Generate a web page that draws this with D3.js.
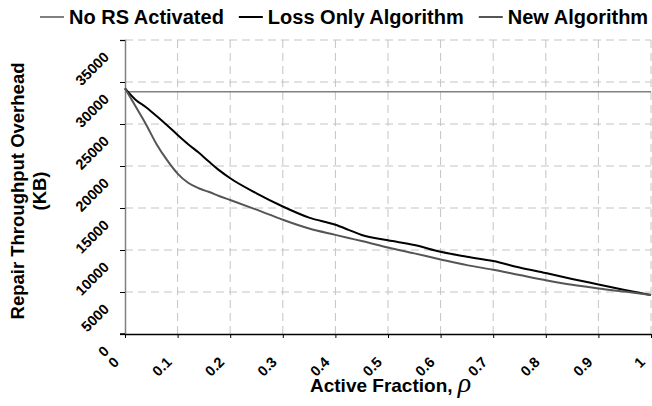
<!DOCTYPE html>
<html lang="en">

<head>
  <meta charset="UTF-8">
  <title>Repair Throughput Overhead</title>
  <script src="https://d3js.org/d3.v7.min.js"></script>
  <style>
    body {
      margin: 0;
      background: #fff;
    }

    text {
      font-family: "Liberation Sans", Arial, sans-serif;
      font-weight: bold;
    }
  </style>
</head>

<body>
  <div class="chartContainer"></div>

  <script>
    // data
    const rho = [0, 0.02, 0.04, 0.06, 0.08, 0.1, 0.12, 0.14, 0.16, 0.18, 0.2, 0.25, 0.3, 0.35, 0.4, 0.425, 0.45,
      0.5, 0.55, 0.6, 0.65, 0.7, 0.75, 0.8, 0.85, 0.9, 0.95, 1]
    const noRS = rho.map(() => 28850)
    const lossOnly = [29250, 27900, 27000, 25950, 24850, 23700, 22600, 21600, 20500, 19450, 18540, 16750,
      15180, 13850, 13000, 12400, 11790, 11150, 10600, 9780, 9200, 8680, 7920, 7250, 6550, 5900, 5250, 4640]
    const newAlg = [29250, 27100, 24950, 22600, 20700, 19100, 18000, 17350, 16900, 16400, 15950, 14800,
      13600, 12550, 11800, 11430, 11070, 10300, 9600, 8880, 8200, 7650, 7020, 6400, 5850, 5420, 5050, 4640]
    const seriesNames = ['No RS Activated', 'Loss Only Algorithm', 'New Algorithm']
    const seriesColors = ['#808080', '#000000', '#555555']
    const xTicks = [0, 0.1, 0.2, 0.3, 0.4, 0.5, 0.6, 0.7, 0.8, 0.9, 1]
    const yTicks = [0, 5000, 10000, 15000, 20000, 25000, 30000, 35000]

    const width = 652, height = 406
    const plotLeft = 125, plotRight = 651, plotTop = 40, plotBottom = 334

    const svg = d3.select('.chartContainer')
      .append('svg')
      .attr('width', width)
      .attr('height', height)

    const x = d3.scaleLinear().domain([0, 1]).range([plotLeft, plotRight])
    const y = d3.scaleLinear().domain([0, 35000]).range([plotBottom, plotTop])

    // 格線
    svg.append('g')
      .selectAll('line')
      .data(yTicks.slice(1))
      .enter()
      .append('line')
      .attr('x1', plotLeft).attr('x2', plotRight)
      .attr('y1', d => y(d)).attr('y2', d => y(d))
      .attr('stroke', '#c4c4c4')
      .attr('stroke-dasharray', '8,5')

    svg.append('g')
      .selectAll('line')
      .data(xTicks.slice(1))
      .enter()
      .append('line')
      .attr('x1', d => x(d)).attr('x2', d => x(d))
      .attr('y1', plotTop).attr('y2', plotBottom)
      .attr('stroke', '#c4c4c4')
      .attr('stroke-dasharray', '8,5')

    // y axis
    const yAxis = svg.append('g')
      .attr('transform', `translate(${plotLeft},0)`)
      .call(d3.axisLeft(y).tickValues(yTicks).tickSize(5).tickFormat(''))
    yAxis.select('.domain').attr('stroke', '#808080').attr('stroke-width', 1.5)
    yAxis.selectAll('.tick line').attr('stroke', '#000')

    svg.append('g')
      .selectAll('text')
      .data(yTicks)
      .enter()
      .append('text')
      .attr('transform', d => `translate(110,${y(d) + 18}) rotate(-45)`)
      .attr('text-anchor', 'end')
      .style('font-size', '14.5px')
      .text(d => d)

    // x axis
    const xAxis = svg.append('g')
      .attr('transform', `translate(0,${plotBottom})`)
      .call(d3.axisBottom(x).tickValues(xTicks).tickSize(4).tickFormat('').tickSizeOuter(0))
    xAxis.select('.domain').attr('stroke', '#000').attr('stroke-width', 1.5)
    svg.append('line')
      .attr('x1', plotLeft - 5).attr('x2', plotLeft)
      .attr('y1', plotBottom).attr('y2', plotBottom)
      .attr('stroke', '#000').attr('stroke-width', 1.5)

    svg.append('g')
      .selectAll('text')
      .data(xTicks)
      .enter()
      .append('text')
      .attr('transform', d => `translate(${x(d) - 5},${plotBottom + 29}) rotate(-45)`)
      .attr('text-anchor', 'end')
      .style('font-size', '14.5px')
      .text(d => d)

    // axis titles
    const xTitle = svg.append('text')
      .attr('x', 310)
      .attr('y', 392)
      .style('font-size', '19px')
    xTitle.append('tspan').text('Active Fraction, ')
    xTitle.append('tspan')
      .style('font-family', '"Liberation Serif", serif')
      .style('font-style', 'italic')
      .style('font-weight', 'normal')
      .style('font-size', '28px')
      .text('ρ')

    const yTitle = svg.append('text')
      .attr('transform', 'translate(24,191) rotate(-90)')
      .attr('text-anchor', 'middle')
      .style('font-size', '18.5px')
    yTitle.append('tspan').attr('x', 0).attr('dy', 0).text('Repair Throughput Overhead')
    yTitle.append('tspan').attr('x', 0).attr('dy', 22).text('(KB)')

    // 線條
    const line = d3.line()
      .x(d => x(d[0]))
      .y(d => y(d[1]))
      .curve(d3.curveMonotoneX)

    const series = [noRS, lossOnly, newAlg]
    svg.append('g')
      .selectAll('path')
      .data(series)
      .enter()
      .append('path')
      .attr('d', s => line(rho.map((r, i) => [r, s[i]])))
      .attr('fill', 'none')
      .attr('stroke', (s, i) => seriesColors[i])
      .attr('stroke-width', (s, i) => i === 0 ? 1.5 : 2)

    // legend, items laid out one after another
    let legendX = 40
    seriesNames.forEach((name, i) => {
      const g = svg.append('g').attr('transform', `translate(${legendX},17)`)
      g.append('line')
        .attr('x1', 0).attr('x2', 24)
        .attr('stroke', seriesColors[i])
        .attr('stroke-width', 2)
      const t = g.append('text')
        .attr('x', 29)
        .attr('y', 7)
        .style('font-size', '20px')
        .text(name)
      legendX += 29 + t.node().getComputedTextLength() + 15
    })
  </script>
</body>

</html>
